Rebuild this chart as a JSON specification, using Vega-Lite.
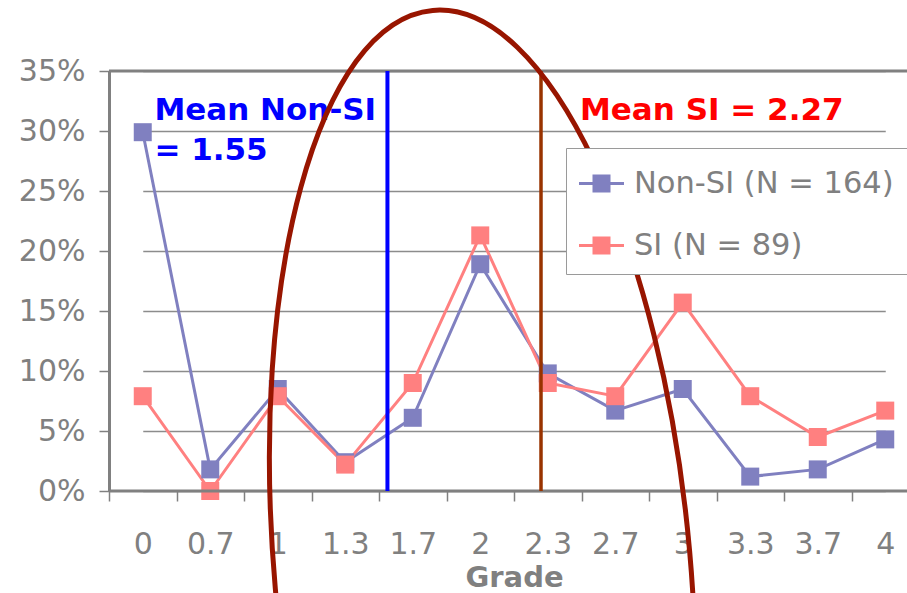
{
  "$schema": "https://vega.github.io/schema/vega-lite/v6.json",
  "width": 798,
  "height": 420,
  "autosize": {"type": "none"},
  "padding": {"left": 109, "top": 71, "right": 0, "bottom": 102},
  "background": "#ffffff",
  "datasets": {
    "grades": [
      {"series": "Non-SI (N = 164)", "grade": 0, "pct": 0.299},
      {"series": "Non-SI (N = 164)", "grade": 0.7, "pct": 0.018},
      {"series": "Non-SI (N = 164)", "grade": 1, "pct": 0.085},
      {"series": "Non-SI (N = 164)", "grade": 1.3, "pct": 0.024},
      {"series": "Non-SI (N = 164)", "grade": 1.7, "pct": 0.061},
      {"series": "Non-SI (N = 164)", "grade": 2, "pct": 0.189},
      {"series": "Non-SI (N = 164)", "grade": 2.3, "pct": 0.098},
      {"series": "Non-SI (N = 164)", "grade": 2.7, "pct": 0.067},
      {"series": "Non-SI (N = 164)", "grade": 3, "pct": 0.085},
      {"series": "Non-SI (N = 164)", "grade": 3.3, "pct": 0.012},
      {"series": "Non-SI (N = 164)", "grade": 3.7, "pct": 0.018},
      {"series": "Non-SI (N = 164)", "grade": 4, "pct": 0.043},
      {"series": "SI (N = 89)", "grade": 0, "pct": 0.079},
      {"series": "SI (N = 89)", "grade": 0.7, "pct": 0.0},
      {"series": "SI (N = 89)", "grade": 1, "pct": 0.079},
      {"series": "SI (N = 89)", "grade": 1.3, "pct": 0.022},
      {"series": "SI (N = 89)", "grade": 1.7, "pct": 0.09},
      {"series": "SI (N = 89)", "grade": 2, "pct": 0.213},
      {"series": "SI (N = 89)", "grade": 2.3, "pct": 0.09},
      {"series": "SI (N = 89)", "grade": 2.7, "pct": 0.079},
      {"series": "SI (N = 89)", "grade": 3, "pct": 0.157},
      {"series": "SI (N = 89)", "grade": 3.3, "pct": 0.079},
      {"series": "SI (N = 89)", "grade": 3.7, "pct": 0.045},
      {"series": "SI (N = 89)", "grade": 4, "pct": 0.067}
    ],
    "frame": [{"edge": 0}, {"edge": 0.35}],
    "meanNonSI": [{"mean": 1.55, "label": "Mean Non-SI\n= 1.55"}],
    "meanSI": [{"mean": 2.27, "label": "Mean SI = 2.27"}],
    "ring": [{"grade": 2.01, "pct": -0.066}]
  },
  "config": {
    "view": {"stroke": null},
    "font": "DejaVu Sans",
    "axis": {
      "labelFont": "DejaVu Sans",
      "titleFont": "DejaVu Sans",
      "labelColor": "#808080",
      "titleColor": "#808080",
      "labelFontSize": 30,
      "tickColor": "#808080",
      "tickWidth": 1.5,
      "tickSize": 10
    }
  },
  "layer": [
    {
      "data": {"name": "grades"},
      "mark": {"type": "line", "strokeWidth": 3},
      "encoding": {
        "x": {
          "field": "grade", "type": "quantitative",
          "scale": {"type": "linear", "domain": [0, 0.7, 1, 1.3, 1.7, 2, 2.3, 2.7, 3, 3.3, 3.7, 4], "range": [33.75, 101.25, 168.75, 236.25, 303.75, 371.25, 438.75, 506.25, 573.75, 641.25, 708.75, 776.25], "nice": false, "zero": false},
          "axis": {
            "title": "Grade",
            "values": [0, 0.7, 1, 1.3, 1.7, 2, 2.3, 2.7, 3, 3.3, 3.7, 4],
            "labelExpr": "datum.value + ''",
            "grid": false,
            "domain": false,
            "tickOffset": -33.75,
            "labelOffset": 33.75,
            "labelPadding": 28,
            "labelFlush": false,
            "labelOverlap": false,
            "titleFontSize": 29,
            "titleFontWeight": "bold",
            "titlePadding": 4
          }
        },
        "y": {
          "field": "pct", "type": "quantitative",
          "scale": {"domain": [0, 0.35], "nice": false, "zero": false},
          "axis": {
            "title": null,
            "values": [0, 0.05, 0.1, 0.15, 0.2, 0.25, 0.3, 0.35],
            "format": ".0%",
            "grid": true,
            "gridColor": "#8c8c8c",
            "gridWidth": 1.5,
            "domainColor": "#808080",
            "domainWidth": 3,
            "labelPadding": 14,
            "labelOverlap": false
          }
        },
        "color": {
          "field": "series", "type": "nominal",
          "scale": {"domain": ["Non-SI (N = 164)", "SI (N = 89)"], "range": ["#8080c0", "#ff8080"]},
          "legend": {
            "title": null,
            "orient": "none",
            "legendX": 457,
            "legendY": 77,
            "padding": 13,
            "fillColor": "#ffffff",
            "strokeColor": "#9a9a9a",
            "symbolType": "M-1,-0.067L1,-0.067L1,0.067L-1,0.067Z M-0.4,-0.4L0.4,-0.4L0.4,0.4L-0.4,0.4Z",
            "symbolSize": 2025,
            "symbolStrokeWidth": 0,
            "symbolFillColor": "#8080c0",
            "labelFont": "DejaVu Sans",
            "labelFontSize": 30.5,
            "labelColor": "#808080",
            "labelOffset": 10,
            "labelLimit": 400,
            "rowPadding": 24
          }
        }
      }
    },
    {
      "data": {"name": "grades"},
      "mark": {"type": "point", "shape": "square", "filled": true, "size": 324, "opacity": 1},
      "encoding": {
        "x": {"field": "grade", "type": "quantitative"},
        "y": {"field": "pct", "type": "quantitative"},
        "color": {"field": "series", "type": "nominal"}
      }
    },
    {
      "data": {"name": "frame"},
      "mark": {"type": "rule", "color": "#808080", "strokeWidth": 3},
      "encoding": {
        "y": {"field": "edge", "type": "quantitative"}
      }
    },
    {
      "data": {"name": "meanNonSI"},
      "mark": {"type": "rule", "color": "#0000ff", "strokeWidth": 4},
      "encoding": {
        "x": {"field": "mean", "type": "quantitative"}
      }
    },
    {
      "data": {"name": "meanNonSI"},
      "mark": {"type": "text", "align": "left", "baseline": "alphabetic", "dx": -233, "fontSize": 31, "fontWeight": "bold", "color": "#0000ff", "lineBreak": "\n", "lineHeight": 40},
      "encoding": {
        "x": {"field": "mean", "type": "quantitative"},
        "y": {"datum": 0.309},
        "text": {"field": "label", "type": "nominal"}
      }
    },
    {
      "data": {"name": "meanSI"},
      "mark": {"type": "rule", "color": "#993300", "strokeWidth": 3.5},
      "encoding": {
        "x": {"field": "mean", "type": "quantitative"}
      }
    },
    {
      "data": {"name": "meanSI"},
      "mark": {"type": "text", "align": "left", "baseline": "alphabetic", "dx": 39, "fontSize": 31, "fontWeight": "bold", "color": "#ff0000"},
      "encoding": {
        "x": {"field": "mean", "type": "quantitative"},
        "y": {"datum": 0.309},
        "text": {"field": "label", "type": "nominal"}
      }
    },
    {
      "data": {"name": "ring"},
      "mark": {
        "type": "point",
        "shape": "M207.18,-18.42C234.66,290.74,164.18,549.62,49.76,559.79C-64.66,569.96,-179.7,327.58,-207.18,18.42C-234.66,-290.74,-164.18,-549.62,-49.76,-559.79C64.66,-569.96,179.7,-327.58,207.18,-18.42Z",
        "size": 4,
        "filled": false,
        "color": "#981500",
        "strokeWidth": 5,
        "opacity": 1
      },
      "encoding": {
        "x": {"field": "grade", "type": "quantitative"},
        "y": {"field": "pct", "type": "quantitative"}
      }
    }
  ]
}
